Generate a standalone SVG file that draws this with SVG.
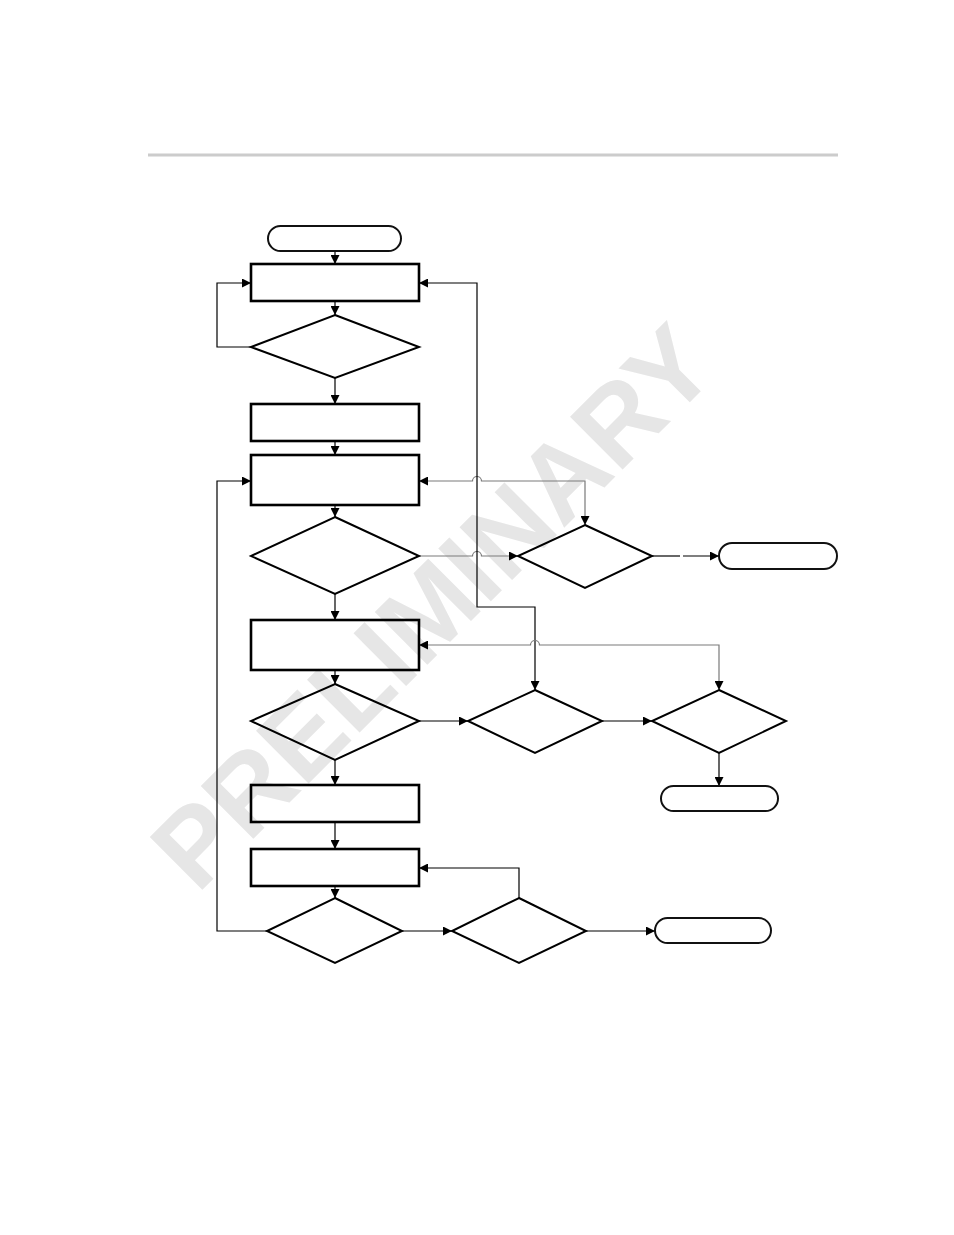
<svg xmlns="http://www.w3.org/2000/svg" width="954" height="1235" viewBox="0 0 954 1235">
<style>
.box{fill:none;stroke:#000;stroke-width:2.6}
.dia{fill:none;stroke:#000;stroke-width:2}
.term{fill:none;stroke:#111;stroke-width:2}
.c{fill:none;stroke:#000;stroke-width:1.2}
.g{fill:none;stroke:#7a7a7a;stroke-width:1.2}
.wm{font-family:"Liberation Sans",Arial,sans-serif;font-weight:bold;font-size:108px;fill:#e6e6e6}
</style>
<defs>
<marker id="ah" viewBox="0 0 10 10" refX="10" refY="5" markerUnits="userSpaceOnUse" markerWidth="9" markerHeight="9" orient="auto-start-reverse">
<path d="M0,0 L10,5 L0,10 z" fill="#000"/>
</marker>
</defs>
<rect width="954" height="1235" fill="#fff"/>
<line x1="148" y1="155" x2="838" y2="155" stroke="#cccccc" stroke-width="3"/>
<text class="wm" x="459" y="633" text-anchor="middle" transform="rotate(-45 459 633)">PRELIMINARY</text>

<g id="connectors">
<path class="c" d="M335,251 V264" marker-end="url(#ah)"/>
<path class="c" d="M335,301 V315" marker-end="url(#ah)"/>
<path class="c" d="M251,347 H217 V283 H251" marker-end="url(#ah)"/>
<path class="c" d="M335,378 V404" marker-end="url(#ah)"/>
<path class="c" d="M335,441 V455" marker-end="url(#ah)"/>
<path class="c" d="M335,505 V517" marker-end="url(#ah)"/>
<path class="g" d="M419,556 H472.5 a4.5,4.5 0 0 1 9,0 H518" marker-end="url(#ah)"/>
<path class="c" d="M652,556 H680"/>
<path class="c" d="M683,556 H719" marker-end="url(#ah)"/>
<path class="g" d="M419,481 H472.5 a4.5,4.5 0 0 1 9,0 H585 V525" marker-start="url(#ah)" marker-end="url(#ah)"/>
<path class="c" d="M419,283 H477 V607 H535 V690" marker-start="url(#ah)" marker-end="url(#ah)"/>
<path class="g" d="M419,645 H530.5 a4.5,4.5 0 0 1 9,0 H719 V690" marker-start="url(#ah)" marker-end="url(#ah)"/>
<path class="c" d="M335,594 V620" marker-end="url(#ah)"/>
<path class="c" d="M335,670 V684" marker-end="url(#ah)"/>
<path class="c" d="M419,721 H468" marker-end="url(#ah)"/>
<path class="c" d="M602,721 H652" marker-end="url(#ah)"/>
<path class="c" d="M719,753 V786" marker-end="url(#ah)"/>
<path class="c" d="M335,760 V785" marker-end="url(#ah)"/>
<path class="c" d="M335,822 V849" marker-end="url(#ah)"/>
<path class="c" d="M335,886 V898" marker-end="url(#ah)"/>
<path class="c" d="M267,931 H217 V481 H251" marker-end="url(#ah)"/>
<path class="c" d="M402,931 H452" marker-end="url(#ah)"/>
<path class="c" d="M519,898 V868 H419" marker-end="url(#ah)"/>
<path class="c" d="M586,931 H655" marker-end="url(#ah)"/>
</g>

<g id="start"><rect class="term" x="268" y="226" width="133" height="25" rx="12.5"/></g>
<g id="box1"><rect class="box" x="251" y="264" width="168" height="37"/></g>
<g id="dec1"><polygon class="dia" points="335,315 419,347 335,378 251,347"/></g>
<g id="box2"><rect class="box" x="251" y="404" width="168" height="37"/></g>
<g id="box3"><rect class="box" x="251" y="455" width="168" height="50"/></g>
<g id="dec2"><polygon class="dia" points="335,517 419,556 335,594 251,556"/></g>
<g id="box4"><rect class="box" x="251" y="620" width="168" height="50"/></g>
<g id="dec3"><polygon class="dia" points="335,684 419,721 335,760 251,721"/></g>
<g id="box5"><rect class="box" x="251" y="785" width="168" height="37"/></g>
<g id="box6"><rect class="box" x="251" y="849" width="168" height="37"/></g>
<g id="dec4"><polygon class="dia" points="335,898 402,931 335,963 267,931"/></g>
<g id="dec5"><polygon class="dia" points="585,525 652,556 585,588 518,556"/></g>
<g id="end1"><rect class="term" x="719" y="543" width="118" height="26" rx="13"/></g>
<g id="dec6"><polygon class="dia" points="535,690 602,721 535,753 468,721"/></g>
<g id="dec7"><polygon class="dia" points="719,690 786,721 719,753 652,721"/></g>
<g id="end2"><rect class="term" x="661" y="786" width="117" height="25" rx="12.5"/></g>
<g id="dec8"><polygon class="dia" points="519,898 586,931 519,963 452,931"/></g>
<g id="end3"><rect class="term" x="655" y="918" width="116" height="25" rx="12.5"/></g>
</svg>
